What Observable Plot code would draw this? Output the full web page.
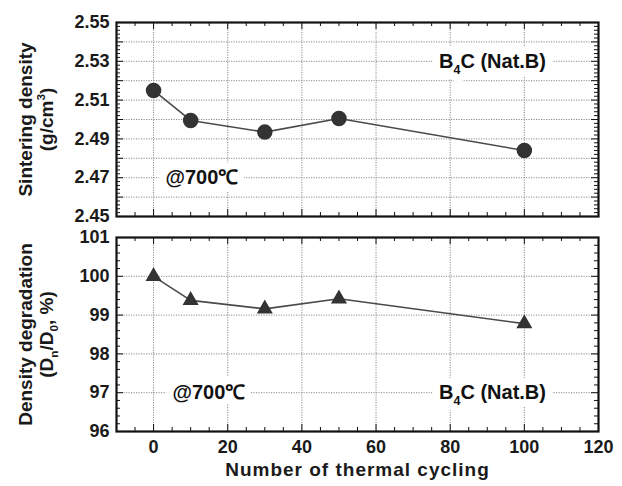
<!DOCTYPE html>
<html><head><meta charset="utf-8">
<script src="https://cdn.jsdelivr.net/npm/d3@7"></script>
<script src="https://cdn.jsdelivr.net/npm/@observablehq/plot@0.6"></script>
<style>
body{margin:0;background:#fff;}
#chart{width:622px;}
#chart svg{display:block;}
</style></head><body><div id="chart"></div>
<script>
// ---- data ----
const cycles = [0, 10, 30, 50, 100];
const density = [2.515, 2.4995, 2.4935, 2.5005, 2.484];
const degradation = [100.0, 99.38, 99.16, 99.42, 98.78];
// ---- tick labels ----
const xTicks = [0, 20, 40, 60, 80, 100, 120];
const densityTicks = [2.45, 2.47, 2.49, 2.51, 2.53, 2.55];
const degradationTicks = [96, 97, 98, 99, 100, 101];
const xLabel = "Number of thermal cycling";
const topTitle = ["Sintering density", "(g/cm3)"];
const botTitle = ["Density degradation", "(Dn/D0, %)"];
const material = "B4C (Nat.B)";
const temp = "@700\u2103";

const FONT = "'Liberation Sans', Arial, Helvetica, sans-serif";
const xDomain = [-10, 120];
const xGrid = [0, 20, 40, 60, 80, 100];
const xMinor = d3.range(-5, 120, 5);
const isMajorX = d => d % 20 === 0;

const topRows = cycles.map((c, i) => ({c, v: density[i]}));
const botRows = cycles.map((c, i) => ({c, v: degradation[i]}));

const gridStyle = {stroke: "#8a8a8a", strokeOpacity: 1, strokeWidth: 1, strokeDasharray: "1.2,1.3"};

function frameTicks(plotW, plotH, yMinor, isMajorY) {
  const maj = 7, mn = 4;
  return [
    Plot.tickX(xMinor.filter(d => !isMajorX(d)), {x: d => d, insetBottom: plotH - mn, stroke: "#111"}),
    Plot.tickX(xMinor.filter(isMajorX), {x: d => d, insetBottom: plotH - maj, stroke: "#111"}),
    Plot.tickX(xMinor.filter(d => !isMajorX(d)), {x: d => d, insetTop: plotH - mn, stroke: "#111"}),
    Plot.tickX(xMinor.filter(isMajorX), {x: d => d, insetTop: plotH - maj, stroke: "#111"}),
    Plot.tickY(yMinor.filter(d => !isMajorY(d)), {y: d => d, insetRight: plotW - mn, stroke: "#111"}),
    Plot.tickY(yMinor.filter(isMajorY), {y: d => d, insetRight: plotW - maj, stroke: "#111"}),
    Plot.tickY(yMinor.filter(d => !isMajorY(d)), {y: d => d, insetLeft: plotW - mn, stroke: "#111"}),
    Plot.tickY(yMinor.filter(isMajorY), {y: d => d, insetLeft: plotW - maj, stroke: "#111"})
  ];
}

function annot(x, y, text) {
  const base = {x: () => x, y: () => y, text: d => d, textAnchor: "start", fontSize: 20, fontWeight: "bold"};
  return [
    Plot.text([text], {...base, fill: "white", stroke: "white", strokeWidth: 15, strokeLinejoin: "round"}),
    Plot.text([text], {...base, fill: "#111"})
  ];
}

function yTitles(lines) {
  const base = {frameAnchor: "left", text: d => d, rotate: -90, textAnchor: "middle", fontSize: 19, fontWeight: "bold", fill: "#1a1a1a"};
  return [
    Plot.text([lines[0]], {...base, dx: -91}),
    Plot.text([lines[1]], {...base, dx: -70})
  ];
}

const W = 622, ML = 116, MR = 24;
const plotW = W - ML - MR;

// ---- top panel ----
const topH = 228, topMT = 22, topMB = 12;
const yMinorTop = d3.range(0, 51).map(i => +(2.45 + i * 0.002).toFixed(3));
const isMajTop = d => Math.abs(d * 100 - Math.round(d * 100)) < 1e-6;
const topPlot = Plot.plot({
  width: W, height: topH, marginLeft: ML, marginRight: MR, marginTop: topMT, marginBottom: topMB,
  style: {fontFamily: FONT, fontSize: "18px", fontWeight: "bold", color: "#1a1a1a", background: "white", overflow: "visible"},
  x: {domain: xDomain, axis: null},
  y: {domain: [2.45, 2.55], axis: null},
  marks: [
    Plot.gridY(d3.range(1, 10).map(i => +(2.45 + i * 0.01).toFixed(2)), gridStyle),
    Plot.gridX(xGrid, gridStyle),
    ...annot(77, 2.53, material),
    ...annot(3.2, 2.47, temp),
    ...frameTicks(plotW, topH - topMT - topMB, yMinorTop, isMajTop),
    Plot.frame({stroke: "#111", strokeWidth: 2.2}),
    Plot.axisY(densityTicks, {tickSize: 0, tickPadding: 7, tickFormat: d3.format(".2f"), fontSize: 18, label: null}),
    ...yTitles(topTitle),
    Plot.line(topRows, {x: "c", y: "v", stroke: "#4a4a4a", strokeWidth: 1.6}),
    Plot.dot(topRows, {x: "c", y: "v", r: 7, fill: "#333", stroke: "#333"})
  ]
});

// ---- bottom panel ----
const botH = 258, botMT = 9, botMB = 55;
const yMinorBot = d3.range(0, 26).map(i => +(96 + i * 0.2).toFixed(1));
const isMajBot = d => Math.abs(d - Math.round(d)) < 1e-6;
const botPlot = Plot.plot({
  width: W, height: botH, marginLeft: ML, marginRight: MR, marginTop: botMT, marginBottom: botMB,
  style: {fontFamily: FONT, fontSize: "18px", fontWeight: "bold", color: "#1a1a1a", background: "white", overflow: "visible"},
  x: {domain: xDomain, axis: null},
  y: {domain: [96, 101], axis: null},
  marks: [
    Plot.gridY([97, 98, 99, 100], gridStyle),
    Plot.gridX(xGrid, gridStyle),
    ...annot(5.1, 97, temp),
    ...annot(77, 97, material),
    ...frameTicks(plotW, botH - botMT - botMB, yMinorBot, isMajBot),
    Plot.frame({stroke: "#111", strokeWidth: 2.2}),
    Plot.axisY(degradationTicks, {tickSize: 0, tickPadding: 7, fontSize: 18, label: null}),
    Plot.axisX(xTicks, {tickSize: 0, tickPadding: 9, fontSize: 18, label: null}),
    ...yTitles(botTitle),
    Plot.text([xLabel], {frameAnchor: "bottom", text: d => d, dy: 44, fontSize: 19, fontWeight: "bold", fill: "#1a1a1a"}),
    Plot.line(botRows, {x: "c", y: "v", stroke: "#4a4a4a", strokeWidth: 1.6}),
    Plot.dot(botRows, {x: "c", y: "v", r: 5, symbol: "triangle", fill: "#333", stroke: "#333"})
  ]
});

document.getElementById("chart").append(topPlot, botPlot);

// ---- rich text (sub/superscripts) ----
const rich = {
  [material]: [["B"], ["4", "sub"], ["C (Nat.B)"]],
  [topTitle[1]]: [["(g/cm"], ["3", "sup"], [")"]],
  [botTitle[1]]: [["(D"], ["n", "sub"], ["/D"], ["0", "sub"], [", %)"]]
};
d3.selectAll("#chart text").each(function () {
  const parts = rich[this.textContent];
  if (!parts) return;
  const fs = parseFloat(getComputedStyle(this).fontSize) || 19;
  const sel = d3.select(this);
  sel.text(null);
  let shift = 0;
  for (const [s, kind] of parts) {
    const target = kind === "sub" ? fs * 0.3 : kind === "sup" ? -fs * 0.4 : 0;
    const t = sel.append("tspan").attr("dy", target - shift).text(s);
    if (kind) t.attr("font-size", fs * 0.62);
    shift = target;
  }
});
d3.selectAll("#chart text").filter(function(){return this.textContent === xLabel;}).attr("letter-spacing", "1px");
</script></body></html>
